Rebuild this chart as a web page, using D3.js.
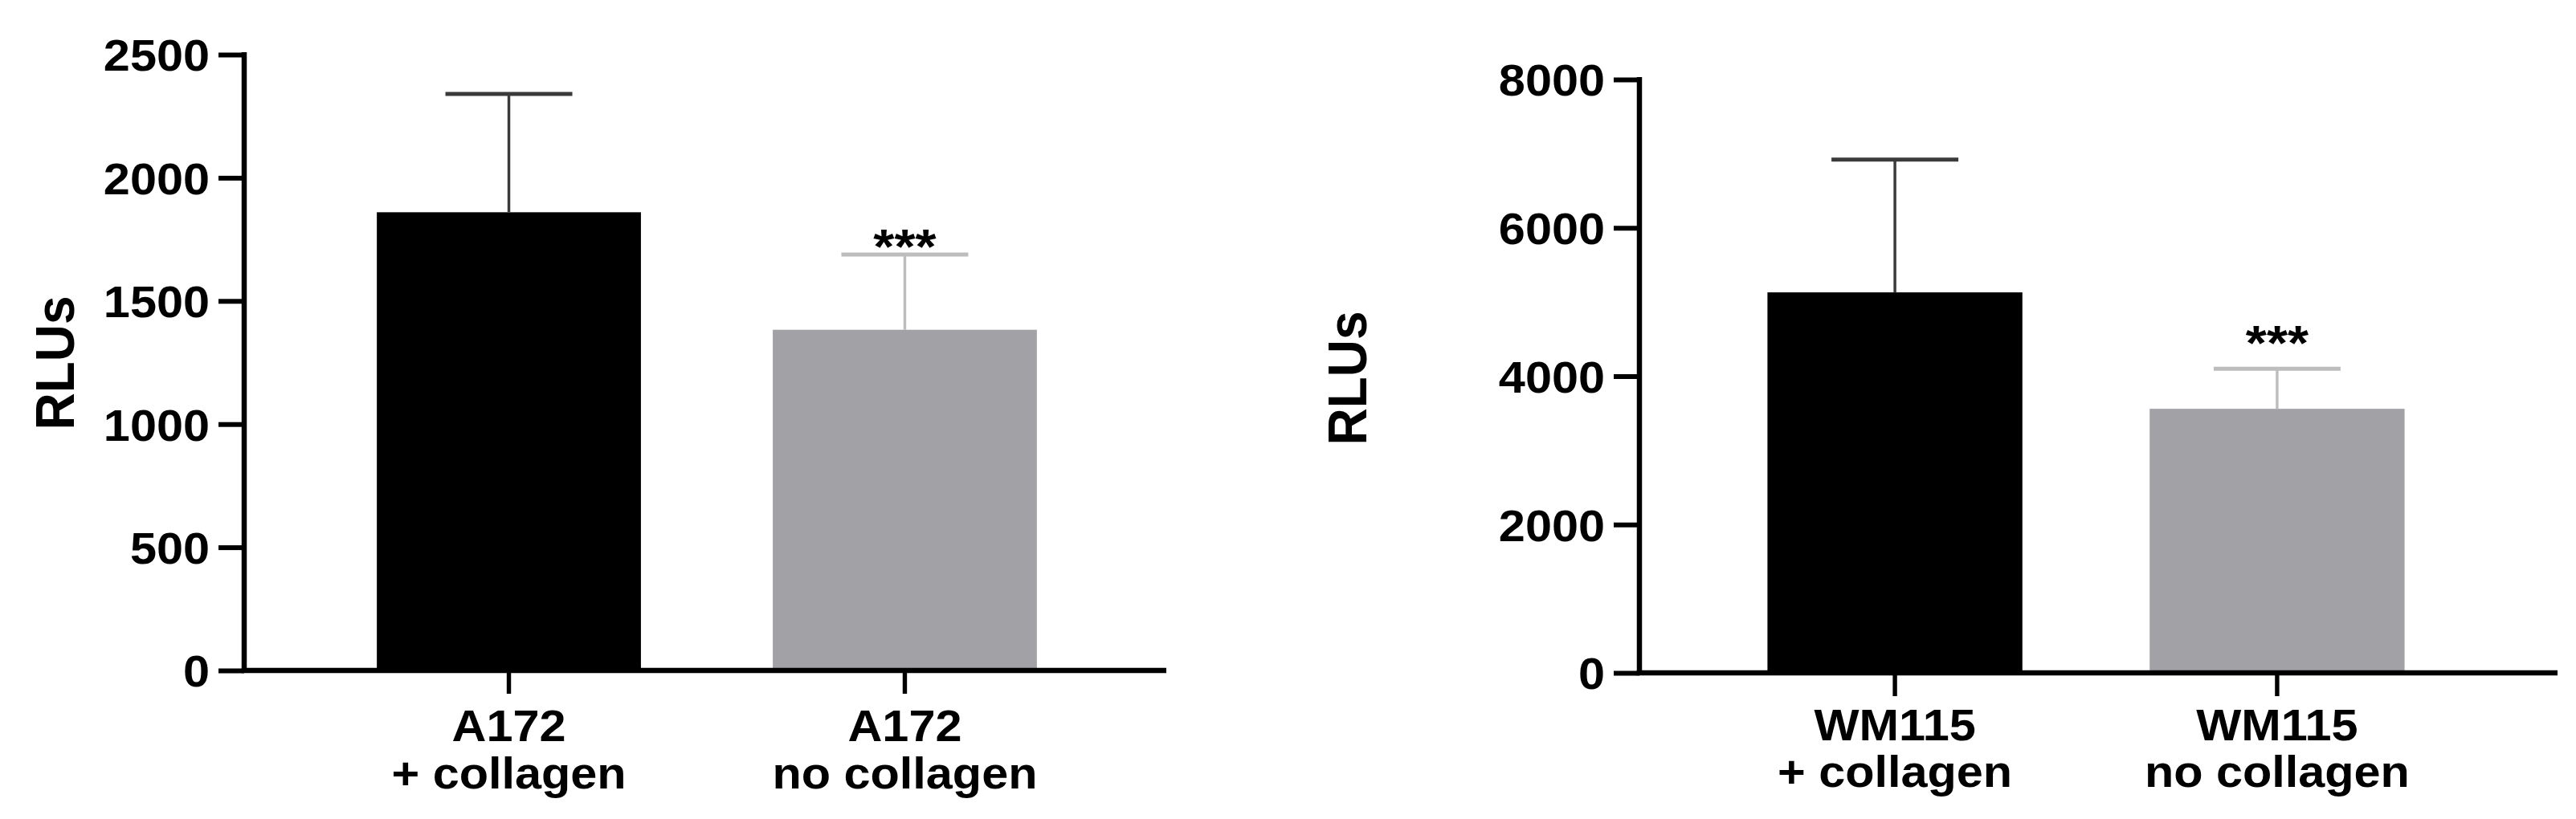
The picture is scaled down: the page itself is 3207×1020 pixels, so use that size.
<!DOCTYPE html>
<html><head><meta charset="utf-8">
<script src="https://cdn.jsdelivr.net/npm/d3@7"></script>
<style>html,body{margin:0;padding:0;background:#fff;} svg{display:block;}</style>
</head><body>
<svg id="chart"></svg>
<script>
// ---------- data ----------
const categoriesA = [["A172", "+ collagen"], ["A172", "no collagen"]];
const valuesA = [1860, 1383];
const errorsA = [480, 305];
const ticksA = [0, 500, 1000, 1500, 2000, 2500];
const categoriesB = [["WM115", "+ collagen"], ["WM115", "no collagen"]];
const valuesB = [5130, 3560];
const errorsB = [1790, 540];
const ticksB = [0, 2000, 4000, 6000, 8000];
const significance = ["", "***"];
const yLabel = "RLUs";

// ---------- style / layout ----------
const W = 3207, H = 1020, SX = 1.08;
const FONT = "'Liberation Sans', Arial, Helvetica, sans-serif";
const barColors = ["#000000", "#a2a1a6"];
const errColors = ["#3a3a3a", "#bdbdbd"];

const svg = d3.select("#chart")
  .attr("width", W).attr("height", H)
  .attr("viewBox", `0 0 ${W / SX} ${H}`)
  .attr("preserveAspectRatio", "none");
svg.append("rect").attr("x", 0).attr("y", 0).attr("width", W / SX).attr("height", H).attr("fill", "#fff");

function drawPanel(cfg) {
  const g = svg.append("g");
  const idx = cfg.values.map((d, i) => i);
  const x = d3.scaleBand().domain(idx)
    .range(cfg.bandRange.map(v => v / SX))
    .paddingInner(0.333).paddingOuter(0.335);
  const y = d3.scaleLinear().domain([0, cfg.ticks[cfg.ticks.length - 1]]).range(cfg.yRange);
  const ax = cfg.axisX / SX;

  // bars
  g.selectAll("rect.bar").data(cfg.values).join("rect")
    .attr("class", "bar")
    .attr("x", (d, i) => x(i)).attr("y", d => y(d))
    .attr("width", x.bandwidth()).attr("height", d => y(0) - y(d))
    .attr("fill", (d, i) => barColors[i]);

  // error bars (upper only)
  const capW = 158 / SX;
  const eg = g.selectAll("g.err").data(cfg.values).join("g").attr("class", "err");
  eg.append("line")
    .attr("x1", (d, i) => x(i) + x.bandwidth() / 2).attr("x2", (d, i) => x(i) + x.bandwidth() / 2)
    .attr("y1", d => y(d)).attr("y2", (d, i) => y(d + cfg.errors[i]))
    .attr("stroke", (d, i) => errColors[i]).attr("stroke-width", 3.2);
  eg.append("line")
    .attr("x1", (d, i) => x(i) + x.bandwidth() / 2 - capW / 2)
    .attr("x2", (d, i) => x(i) + x.bandwidth() / 2 + capW / 2)
    .attr("y1", (d, i) => y(d + cfg.errors[i])).attr("y2", (d, i) => y(d + cfg.errors[i]))
    .attr("stroke", (d, i) => errColors[i]).attr("stroke-width", 5);

  // significance
  g.selectAll("text.sig").data(cfg.values).join("text")
    .attr("class", "sig")
    .attr("x", (d, i) => x(i) + x.bandwidth() / 2)
    .attr("y", (d, i) => y(d + cfg.errors[i]) - cfg.starGap + 0.57 * 62)
    .attr("text-anchor", "middle")
    .attr("font-family", FONT).attr("font-weight", "bold").attr("font-size", 62)
    .attr("fill", "#000")
    .text((d, i) => significance[i]);

  // y axis
  const yAxis = d3.axisLeft(y).tickValues(cfg.ticks).tickSize(32 / SX).tickPadding(11 / SX)
    .tickFormat(d3.format("d"));
  const ya = g.append("g").attr("transform", `translate(${ax},0)`).call(yAxis);
  ya.select(".domain").remove();
  ya.selectAll(".tick line").attr("stroke", "#000").attr("stroke-width", 6);
  ya.selectAll(".tick text")
    .attr("font-family", FONT).attr("font-weight", "bold").attr("font-size", 55)
    .attr("fill", "#000").attr("dy", "0.36em");
  g.append("line").attr("x1", ax).attr("x2", ax)
    .attr("y1", y(0) + 3).attr("y2", y(cfg.ticks[cfg.ticks.length - 1]) - 3)
    .attr("stroke", "#000").attr("stroke-width", 6);

  // x axis
  const xAxis = d3.axisBottom(x).tickSize(29).tickFormat("");
  const xa = g.append("g").attr("transform", `translate(0,${y(0)})`).call(xAxis);
  xa.select(".domain").remove();
  xa.selectAll(".tick line").attr("stroke", "#000").attr("stroke-width", 5);
  g.append("line").attr("x1", ax - 3).attr("x2", cfg.xEnd / SX)
    .attr("y1", y(0)).attr("y2", y(0))
    .attr("stroke", "#000").attr("stroke-width", 6.5);

  // category labels
  const lab = g.selectAll("text.cat").data(cfg.categories).join("text")
    .attr("class", "cat")
    .attr("text-anchor", "middle")
    .attr("font-family", FONT).attr("font-weight", "bold").attr("font-size", 55)
    .attr("fill", "#000");
  lab.append("tspan").attr("x", (d, i) => x(i) + x.bandwidth() / 2).attr("y", cfg.labelY[0]).text(d => d[0]);
  lab.append("tspan").attr("x", (d, i) => x(i) + x.bandwidth() / 2).attr("y", cfg.labelY[1]).text(d => d[1]);

  // y label
  g.append("text")
    .attr("transform", `translate(${cfg.yLabelPos[0] / SX},${cfg.yLabelPos[1]}) rotate(-90)`)
    .attr("text-anchor", "middle")
    .attr("font-family", FONT).attr("font-weight", "bold").attr("font-size", 64)
    .attr("fill", "#000")
    .text(yLabel);
}

drawPanel({
  categories: categoriesA, values: valuesA, errors: errorsA, ticks: ticksA,
  axisX: 304, xEnd: 1452, bandRange: [304, 1456], yRange: [835, 68],
  starGap: 24, labelY: [923, 982], yLabelPos: [92, 452]
});
drawPanel({
  categories: categoriesB, values: valuesB, errors: errorsB, ticks: ticksB,
  axisX: 2041, xEnd: 3184, bandRange: [2041, 3153], yRange: [838, 99],
  starGap: 47, labelY: [922, 980], yLabelPos: [1701, 471]
});
</script>
</body></html>
